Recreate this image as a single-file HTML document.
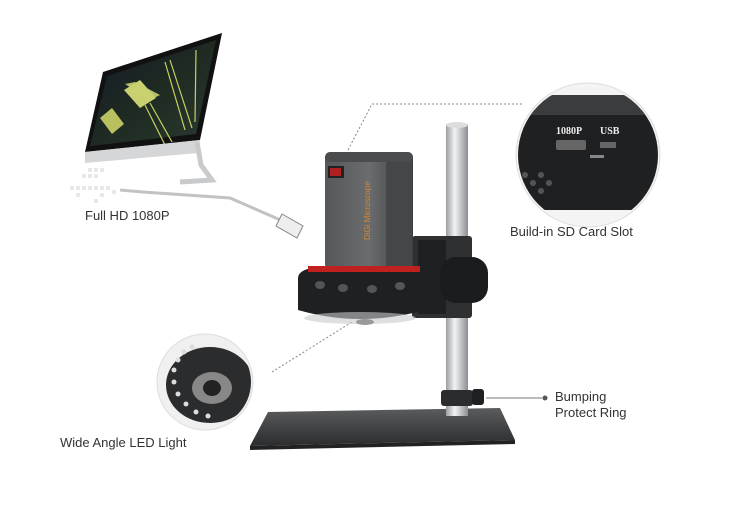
<!DOCTYPE html>
<html><head><meta charset="utf-8"><style>
html,body{margin:0;padding:0;background:#fff;width:730px;height:522px;overflow:hidden}
svg{display:block}
text{font-family:"Liberation Sans",sans-serif;fill:#333;font-size:13px}
</style></head><body>
<svg width="730" height="522" viewBox="0 0 730 522">
<defs>
<linearGradient id="pole" x1="0" x2="1"><stop offset="0" stop-color="#9a9ea2"/><stop offset=".4" stop-color="#f2f3f4"/><stop offset="1" stop-color="#8a8e92"/></linearGradient>
<linearGradient id="body" x1="0" x2="1"><stop offset="0" stop-color="#55585a"/><stop offset=".5" stop-color="#6a6c6e"/><stop offset="1" stop-color="#3a3c3e"/></linearGradient>
<linearGradient id="base" x1="0" y1="0" x2="0" y2="1"><stop offset="0" stop-color="#5a5c5e"/><stop offset="1" stop-color="#2a2c2e"/></linearGradient>
<linearGradient id="scr" x1="0" y1="0" x2="1" y2="1"><stop offset="0" stop-color="#141a2a"/><stop offset=".5" stop-color="#1e2a22"/><stop offset="1" stop-color="#2a3a30"/></linearGradient>
</defs>
<!-- monitor -->
<polygon points="103,72 222,33 200,140 85,152" fill="#111"/>
<polygon points="107,76 216,40 196,134 90,146" fill="url(#scr)"/>
<polygon points="125,84 135,82 160,95 150,100" fill="#c8d070" opacity=".9"/>
<polygon points="124,90 140,80 156,98 140,108" fill="#c8d070"/>
<polygon points="100,118 112,108 124,124 112,134" fill="#b8c060"/>
<g stroke="#c8d060" stroke-width="1.2"><line x1="145" y1="105" x2="165" y2="145"/><line x1="150" y1="103" x2="172" y2="142"/><line x1="165" y1="62" x2="185" y2="130"/><line x1="170" y1="60" x2="192" y2="128"/><line x1="196" y1="50" x2="195" y2="122"/></g>
<polygon points="85,152 200,140 198,153 85,163" fill="#d4d6d8"/>
<path d="M197,142 L201,165 L212,180 L180,182" stroke="#c8cacc" stroke-width="5" fill="none"/>
<!-- pixel dots -->
<g fill="#e6e8ea"><rect x="88" y="168" width="4" height="4"/><rect x="94" y="168" width="4" height="4"/><rect x="100" y="168" width="4" height="4"/><rect x="82" y="174" width="4" height="4"/><rect x="88" y="174" width="4" height="4"/><rect x="94" y="174" width="4" height="4"/><rect x="70" y="186" width="4" height="4"/><rect x="76" y="186" width="4" height="4"/><rect x="82" y="186" width="4" height="4"/><rect x="88" y="186" width="4" height="4"/><rect x="94" y="186" width="4" height="4"/><rect x="100" y="186" width="4" height="4"/><rect x="106" y="186" width="4" height="4"/><rect x="112" y="190" width="4" height="4"/><rect x="76" y="193" width="4" height="4"/><rect x="100" y="193" width="4" height="4"/><rect x="94" y="199" width="4" height="4"/></g>
<!-- cable -->
<path d="M120,190 L143,192 L230,198 L285,222" stroke="#c0c2c4" stroke-width="3" fill="none"/>
<polygon points="282,214 303,226 297,238 276,226" fill="#eee" stroke="#888"/>
<text x="85" y="220">Full HD 1080P</text>
<!-- dotted connectors -->
<path d="M348,150 L372,104 L522,104" stroke="#888" stroke-width="1" stroke-dasharray="2,2" fill="none"/>
<path d="M272,372 L352,322" stroke="#888" stroke-width="1" stroke-dasharray="2,2" fill="none"/>
<!-- circle top right -->
<circle cx="588" cy="155" r="72" fill="#f4f4f4" stroke="#ddd"/>
<clipPath id="c1"><circle cx="588" cy="155" r="70"/></clipPath>
<g clip-path="url(#c1)">
<rect x="505" y="110" width="170" height="100" fill="#1e2022"/>
<rect x="505" y="95" width="170" height="20" fill="#3a3c3e"/>
<rect x="556" y="140" width="30" height="10" fill="#666" rx="2"/>
<rect x="600" y="142" width="16" height="6" fill="#666"/>
<rect x="590" y="155" width="14" height="3" fill="#888"/>
<g fill="#555"><circle cx="525" cy="175" r="3"/><circle cx="533" cy="183" r="3"/><circle cx="541" cy="175" r="3"/><circle cx="549" cy="183" r="3"/><circle cx="525" cy="191" r="3"/><circle cx="541" cy="191" r="3"/></g>
<text x="556" y="134" style="fill:#eee;font-size:10px;font-weight:bold;font-family:'Liberation Serif',serif">1080P</text>
<text x="600" y="134" style="fill:#eee;font-size:10px;font-weight:bold;font-family:'Liberation Serif',serif">USB</text>
</g>
<text x="510" y="236">Build-in SD Card Slot</text>
<!-- circle bottom left -->
<circle cx="205" cy="382" r="48" fill="#f0f0f0" stroke="#ddd"/>
<clipPath id="c2"><circle cx="205" cy="382" r="46"/></clipPath>
<g clip-path="url(#c2)">
<ellipse cx="210" cy="385" rx="44" ry="38" fill="#2a2c2e"/>
<ellipse cx="212" cy="388" rx="20" ry="16" fill="#888"/>
<ellipse cx="212" cy="388" rx="9" ry="8" fill="#222"/>
<g fill="#ddd"><circle cx="178" cy="360" r="2.5"/><circle cx="184" cy="352" r="2.5"/><circle cx="192" cy="347" r="2.5"/><circle cx="174" cy="370" r="2.5"/><circle cx="174" cy="382" r="2.5"/><circle cx="178" cy="394" r="2.5"/><circle cx="186" cy="404" r="2.5"/><circle cx="196" cy="412" r="2.5"/><circle cx="208" cy="416" r="2.5"/></g>
</g>
<text x="60" y="447">Wide Angle LED Light</text>
<!-- base plate -->
<polygon points="268,412 500,408 515,440 250,446" fill="url(#base)"/>
<polygon points="250,446 515,440 515,444 250,450" fill="#222"/>
<!-- pole -->
<rect x="446" y="124" width="22" height="292" fill="url(#pole)"/>
<ellipse cx="457" cy="125" rx="11" ry="3" fill="#ddd"/>
<!-- bumping ring -->
<rect x="441" y="390" width="32" height="16" rx="3" fill="#2a2c2e"/>
<rect x="472" y="389" width="12" height="16" rx="3" fill="#1e2022"/>
<line x1="486" y1="398" x2="542" y2="398" stroke="#777"/>
<circle cx="545" cy="398" r="2.5" fill="#555"/>
<text x="555" y="401">Bumping</text>
<text x="555" y="417">Protect Ring</text>
<!-- clamp -->
<rect x="412" y="236" width="60" height="82" rx="3" fill="#2e3032"/>
<rect x="418" y="240" width="28" height="74" fill="#1e2022"/>
<!-- camera -->
<rect x="325" y="152" width="88" height="118" rx="6" fill="url(#body)"/>
<rect x="386" y="156" width="26" height="112" fill="#444648"/>
<rect x="325" y="152" width="88" height="10" rx="5" fill="#4a4c4e"/>
<rect x="328" y="166" width="16" height="12" fill="#222"/>
<rect x="330" y="168" width="11" height="8" fill="#b02020"/>
<text transform="translate(370,240) rotate(-90)" style="fill:#d08830;font-size:8px">DiGi Microscope</text>
<path d="M298,278 Q298,268 325,266 L412,266 Q425,268 425,278 L425,310 Q360,328 298,310 Z" fill="#1e2022"/>
<rect x="308" y="266" width="112" height="6" fill="#c02020"/>
<g fill="#555"><ellipse cx="320" cy="285" rx="5" ry="4"/><ellipse cx="343" cy="288" rx="5" ry="4"/><ellipse cx="372" cy="289" rx="5" ry="4"/><ellipse cx="400" cy="286" rx="5" ry="4"/></g>
<ellipse cx="360" cy="318" rx="56" ry="6" fill="#c8cacc" opacity=".6"/>
<ellipse cx="365" cy="322" rx="9" ry="3" fill="#999"/>
<!-- knob in front -->
<rect x="440" y="257" width="48" height="46" rx="16" fill="#1a1c1e"/>
</svg>
</body></html>
